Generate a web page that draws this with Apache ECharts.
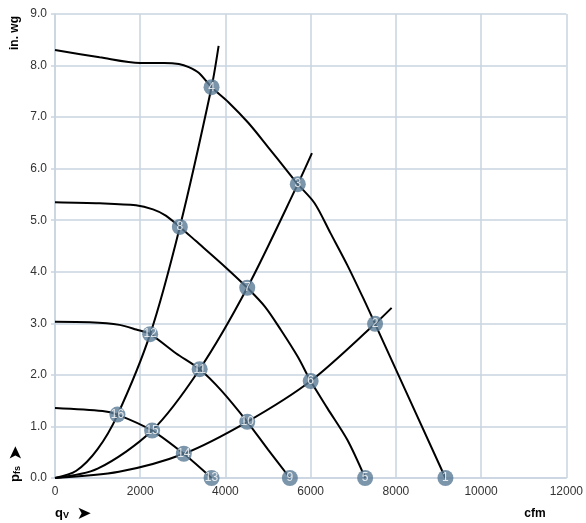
<!DOCTYPE html>
<html>
<head>
<meta charset="utf-8">
<script src="https://cdn.jsdelivr.net/npm/echarts@6/dist/echarts.min.js"></script>
<style>
html,body{margin:0;padding:0;background:#fff;}
#chart{width:586px;height:523px;}
</style>
</head>
<body>
<div id="chart"></div>
<script>
// Fan curves: [flow cfm, pressure in. wg]
var fanCurve1 = [[0,8.30],[1047,8.16],[2000,8.05],[2558,8.05],[2907,8.03],[3140,7.97],[3372,7.86],[3674,7.58],[4070,7.29],[4535,6.89],[5000,6.42],[5465,5.94],[5698,5.70],[6093,5.33],[6465,4.75],[6860,4.13],[7256,3.45],[7512,2.99],[9163,0]];
var fanCurve2 = [[0,5.35],[1047,5.33],[1900,5.29],[2300,5.21],[2600,5.09],[2930,4.87],[3302,4.60],[4000,4.09],[4512,3.69],[4930,3.32],[5302,2.87],[5698,2.35],[6000,1.88],[6395,1.35],[6860,0.74],[7279,0]];
var fanCurve3 = [[0,3.03],[814,3.02],[1512,2.97],[1907,2.88],[2233,2.79],[2837,2.42],[3395,2.11],[3900,1.70],[4512,1.09],[5000,0.55],[5512,0]];
var fanCurve4 = [[0,1.36],[1116,1.30],[1465,1.23],[2279,0.92],[3023,0.47],[3674,0]];
// System curves
var systemCurve1 = [[0,0],[500,0.14],[1000,0.56],[1465,1.22],[2233,2.79],[2930,4.87],[3674,7.58],[3840,8.38]];
var systemCurve2 = [[0,0],[1000,0.18],[2279,0.92],[3395,2.11],[4512,3.69],[5698,5.70],[6030,6.30]];
var systemCurve3 = [[0,0],[1500,0.12],[3023,0.47],[4512,1.09],[6000,1.88],[7512,2.99],[7900,3.30]];
// Operating points
var pointLabels   = ['1','2','3','4','5','6','7','8','9','10','11','12','13','14','15','16'];
var pointFlow     = [9163,7512,5698,3674,7279,6000,4512,2930,5512,4512,3395,2233,3674,3023,2279,1465];
var pointPressure = [0,2.99,5.70,7.58,0,1.88,3.69,4.87,0,1.09,2.11,2.79,0,0.47,0.92,1.23];
// Axis ticks
var xTicks = [0,2000,4000,6000,8000,10000,12000];
var yTicks = [0,1,2,3,4,5,6,7,8,9];

var gridColor = '#c9d5e1';
var font = '"Liberation Sans", Arial, sans-serif';

function lineSeries(data){
  return {type:'line', data:data, smooth:0.3, symbol:'none',
    lineStyle:{color:'#000', width:2}, z:2, silent:true};
}

var pts = pointLabels.map(function(l,i){ return {value:[pointFlow[i], pointPressure[i]], name:l}; });

var chart = echarts.init(document.getElementById('chart'), null, {renderer:'canvas'});
chart.setOption({
  animation:false,
  backgroundColor:'#fff',
  grid:{left:55, right:15, top:14, bottom:45},
  xAxis:{type:'value', min:xTicks[0], max:xTicks[xTicks.length-1], interval:2000,
    axisLine:{show:true, lineStyle:{color:gridColor, width:1.5}},
    axisTick:{show:false},
    axisLabel:{color:'#333', fontSize:12, fontFamily:font, margin:8, formatter:function(v){return String(v);}},
    splitLine:{show:true, lineStyle:{color:gridColor, width:1.5}}},
  yAxis:{type:'value', min:yTicks[0], max:yTicks[yTicks.length-1], interval:1,
    axisLine:{show:true, lineStyle:{color:gridColor, width:1.5}},
    axisTick:{show:true, length:4, lineStyle:{color:gridColor, width:1.5}},
    axisLabel:{color:'#333', fontSize:12, fontFamily:font, margin:8, formatter:function(v){return v.toFixed(1);}},
    splitLine:{show:true, lineStyle:{color:gridColor, width:1.5}}},
  series:[
    lineSeries(fanCurve1), lineSeries(fanCurve2), lineSeries(fanCurve3), lineSeries(fanCurve4),
    lineSeries(systemCurve1), lineSeries(systemCurve2), lineSeries(systemCurve3),
    {type:'scatter', data:pts, symbol:'circle', symbolSize:16, z:5,
      itemStyle:{color:'#5a7a95'},
      label:{show:true, position:'inside', formatter:'{b}', color:'#fff', fontSize:12, fontFamily:font}}
  ],
  graphic:[
    {type:'text', x:15, y:33, rotation:Math.PI/2,
      style:{text:'in. wg', align:'center', verticalAlign:'middle', fill:'#000', font:'bold 12px '+font}},
    {type:'text', x:15, y:474, rotation:Math.PI/2,
      style:{text:'{p|p}{s|fs}', align:'center', verticalAlign:'middle',
        rich:{p:{font:'bold 13px '+font, fill:'#000'}, s:{font:'bold 9px '+font, fill:'#000', padding:[6,0,0,0]}}}},
    {type:'text', x:16, y:453, rotation:Math.PI/2,
      style:{text:'\u27A4', align:'center', verticalAlign:'middle', fill:'#000', font:'18px "DejaVu Sans"'}},
    {type:'text', x:62, y:513,
      style:{text:'{p|q}{s|V}', align:'center', verticalAlign:'middle',
        rich:{p:{font:'bold 13px '+font, fill:'#000'}, s:{font:'bold 9px '+font, fill:'#000', padding:[6,0,0,0]}}}},
    {type:'text', x:84, y:514,
      style:{text:'\u27A4', align:'center', verticalAlign:'middle', fill:'#000', font:'18px "DejaVu Sans"'}},
    {type:'text', x:535, y:514,
      style:{text:'cfm', align:'center', verticalAlign:'middle', fill:'#000', font:'bold 12px '+font}}
  ]
});
</script>
</body>
</html>
